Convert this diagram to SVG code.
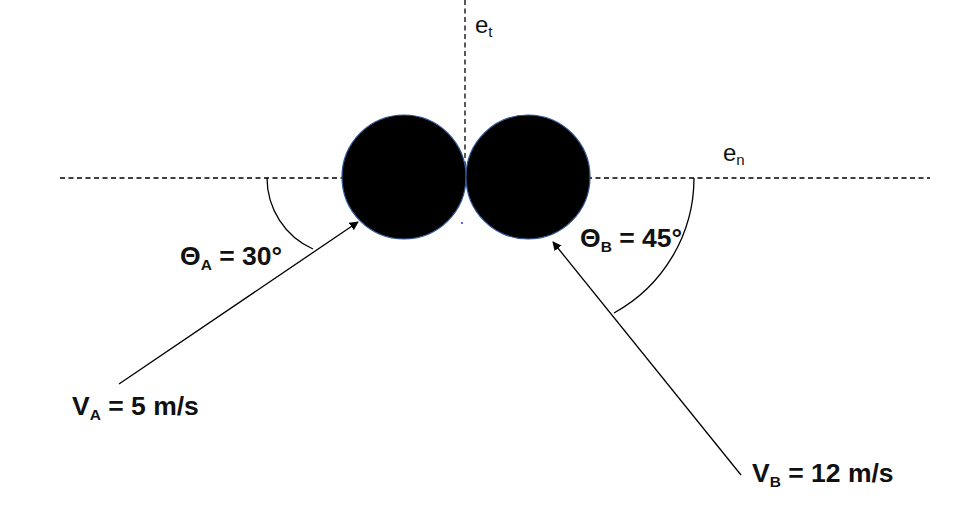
<svg xmlns="http://www.w3.org/2000/svg" width="953" height="513" viewBox="0 0 953 513">
<style>
.dash{stroke:#000;stroke-width:1.3;stroke-dasharray:5 3.5;fill:none}
.ball{fill:#000;stroke:#2f5597;stroke-width:1.2}
.arc{fill:none;stroke:#000;stroke-width:1.3}
.vec{stroke:#000;stroke-width:1.3;fill:none}
.lbl{font-family:"Liberation Sans",Arial,sans-serif;font-weight:bold;font-size:26.5px;fill:#111}
.ax{font-family:"Liberation Sans",Arial,sans-serif;font-size:24px;fill:#111}
.sub{font-size:15.5px}
.subx{font-size:15px}
</style>
<defs>
<marker id="ah" viewBox="0 0 10 10" refX="9" refY="5" markerWidth="9" markerHeight="9" markerUnits="userSpaceOnUse" orient="auto">
<path d="M0,0 L10,5 L0,10 Z" fill="#000"/>
</marker>
</defs>
<rect width="953" height="513" fill="#fff"/>
<g id="axes">
<line class="dash" x1="60" y1="178" x2="930" y2="178"/>
<line class="dash" x1="465" y1="0" x2="465" y2="172"/>
<text class="ax" x="475" y="33">e<tspan class="subx" dy="4">t</tspan></text>
<text class="ax" x="723" y="161">e<tspan class="subx" dy="4">n</tspan></text>
</g>
<g id="ballA"><circle class="ball" cx="404" cy="177" r="62"/></g>
<g id="ballB"><circle class="ball" cx="528" cy="177" r="62"/></g>
<circle cx="462" cy="223" r="1" fill="#3030ff"/>
<g id="connectors">
<line class="vec" x1="119" y1="384" x2="358" y2="222" marker-end="url(#ah)"/>
<line class="vec" x1="741" y1="475" x2="553" y2="242" marker-end="url(#ah)"/>
<path class="arc" d="M267,178 A78,78 0 0 0 313,249"/>
<path class="arc" d="M694,178 A154,154 0 0 1 614,313"/>
</g>
<g id="labels">
<text class="lbl" x="180" y="265">Θ<tspan class="sub" dy="5">A</tspan><tspan dy="-5"> = 30°</tspan></text>
<text class="lbl" x="580" y="247">Θ<tspan class="sub" dy="5">B</tspan><tspan dy="-5"> = 45°</tspan></text>
<text class="lbl" x="72" y="415">V<tspan class="sub" dy="5">A</tspan><tspan dy="-5"> = 5 m/s</tspan></text>
<text class="lbl" x="752" y="482">V<tspan class="sub" dy="5">B</tspan><tspan dy="-5"> = 12 m/s</tspan></text>
</g>
</svg>
